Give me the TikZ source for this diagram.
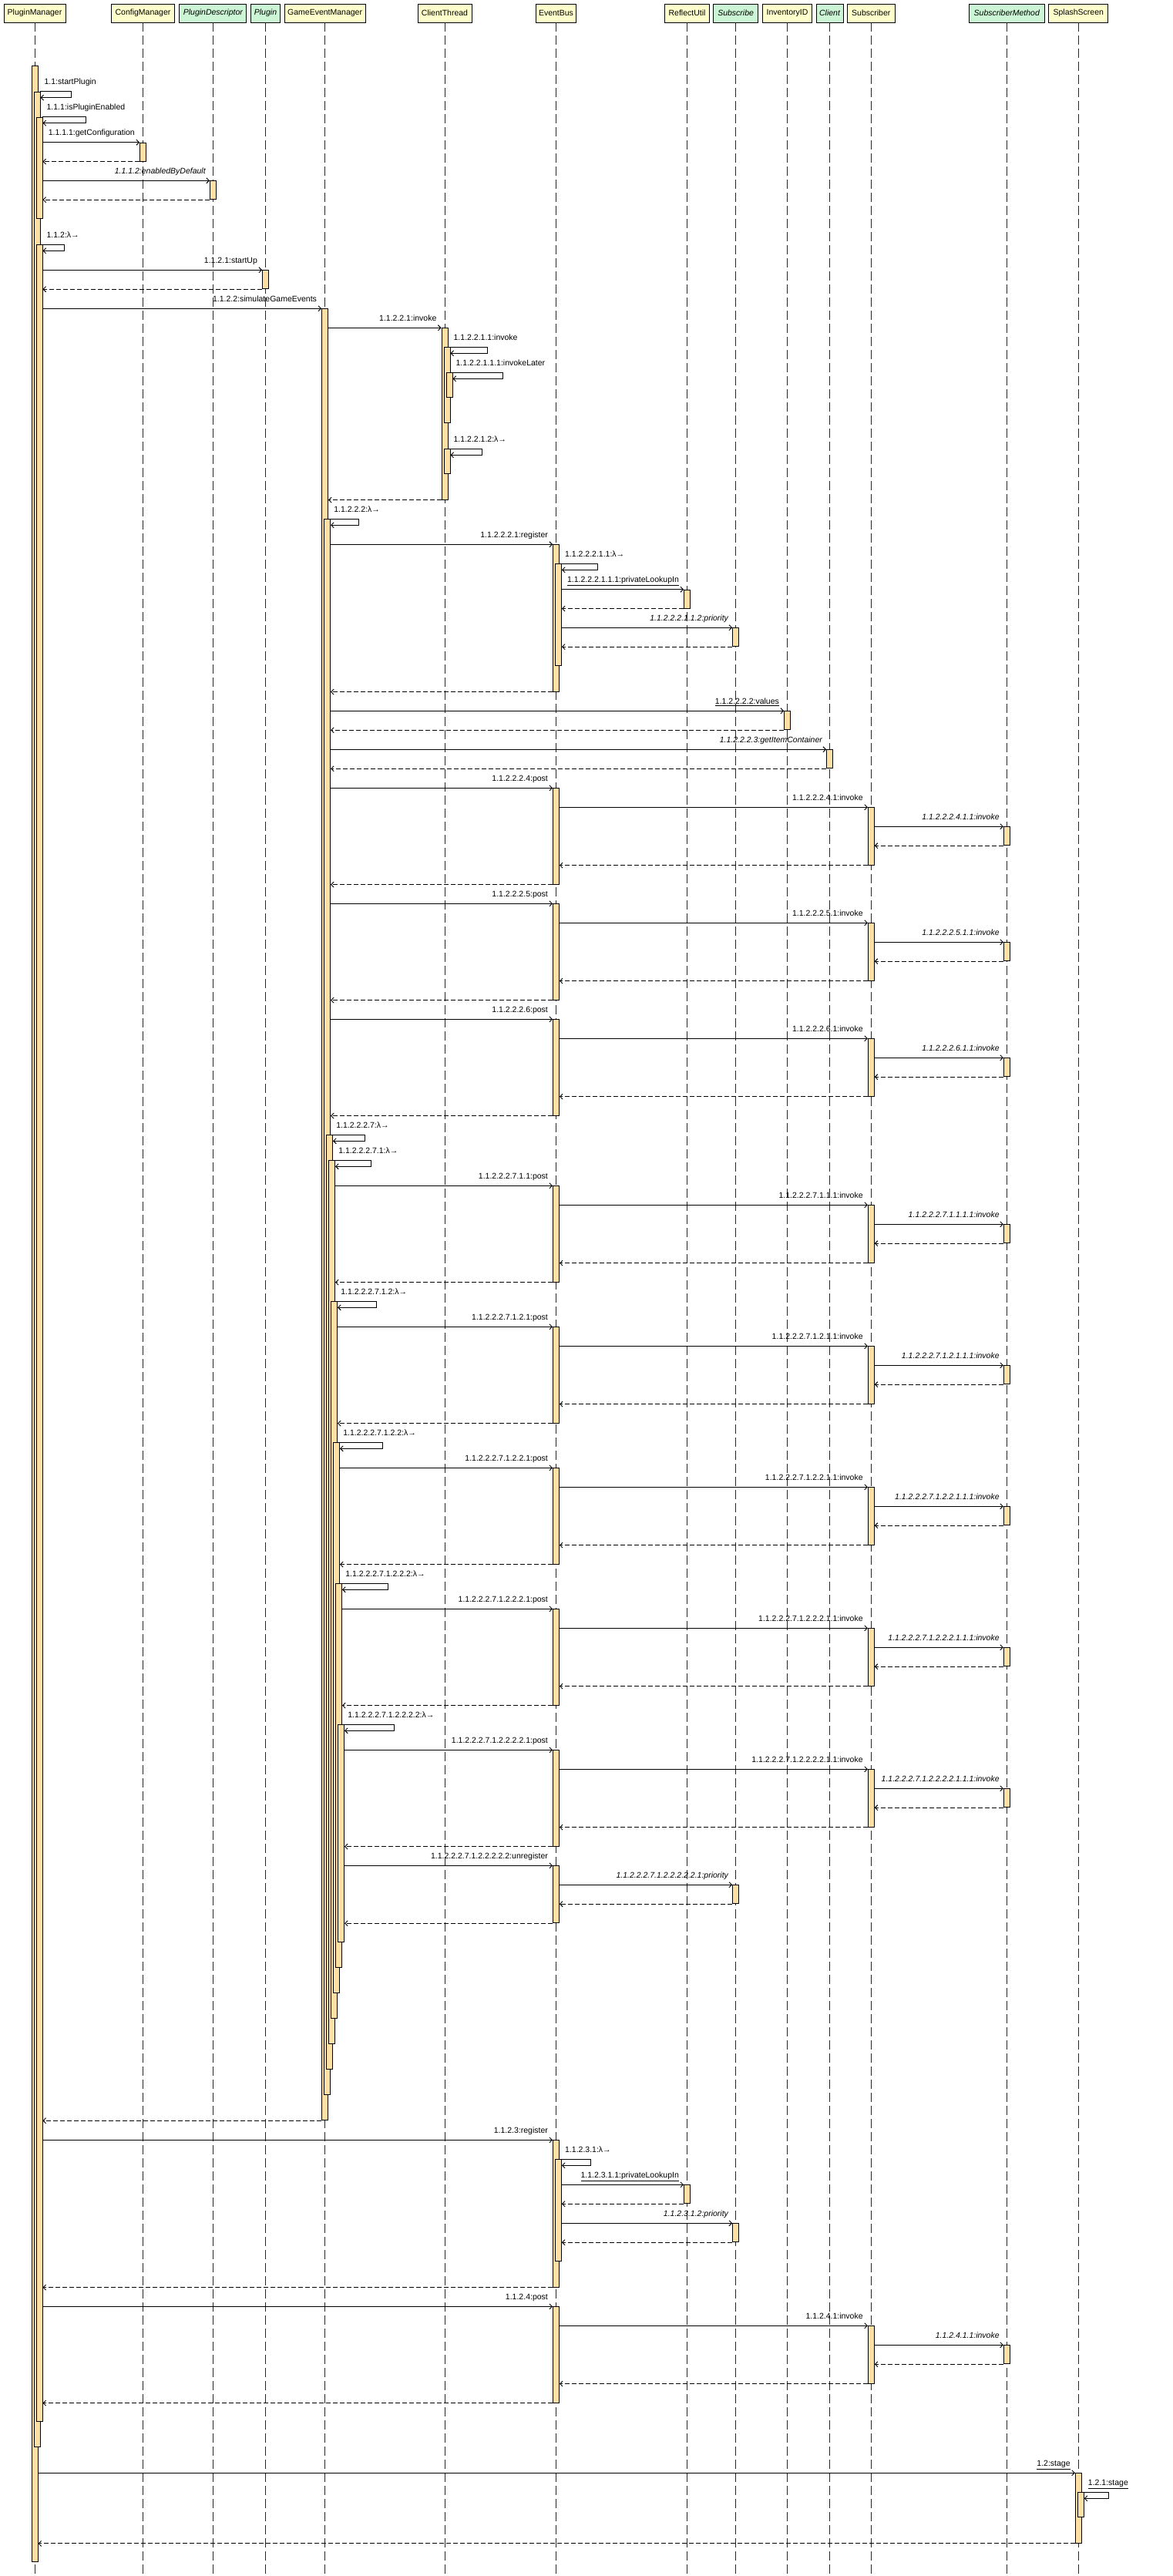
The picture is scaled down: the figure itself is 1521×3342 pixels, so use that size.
\documentclass[tikz,border=0pt]{standalone}
\usepackage{fontspec}
\setmainfont{Liberation Sans}
\usetikzlibrary{arrows.meta, positioning}
\definecolor{headyellow}{HTML}{FFFFCC}
\definecolor{headgreen}{HTML}{CCF5D6}
\definecolor{barfill}{HTML}{FFE0A4}
\tikzset{
  >={Straight Barb[length=3.5pt,width=7pt]},
  font=\fontsize{10.5}{12}\selectfont,
  lifehead/.style={
    draw=black, fill=#1, line width=0.9pt, minimum height=24pt,
    inner xsep=2pt, inner ysep=0pt
  },
  lifehead/.default=headyellow,
  actbar/.style={draw=black, fill=barfill, line width=0.9pt, minimum width=8pt, inner sep=0pt, anchor=north},
  lifeline/.style={draw=black!85, line width=0.9pt, dash pattern=on 12pt off 5pt},
  msg/.style={->, line width=0.9pt},
  ret/.style={->, line width=0.9pt, dash pattern=on 6pt off 3pt},
  lbl/.style={inner sep=0pt}
}

\begin{document}
\begin{tikzpicture}[x=1pt, y=-1pt]
  \useasboundingbox (0,0) rectangle (1521,3342);

  % lifeline heads
  \node[lifehead, minimum width=80pt] (hPM) at (45,17) {PluginManager};
  \node[lifehead, minimum width=82pt] (hCM) at (185.5,17) {ConfigManager};
  \node[lifehead=headgreen, minimum width=87pt] (hPD) at (276.4,17) {\itshape PluginDescriptor};
  \node[lifehead=headgreen, minimum width=38pt] (hPL) at (344.5,17) {\itshape Plugin};
  \node[lifehead, minimum width=105pt] (hGEM) at (421.6,17) {GameEventManager};
  \node[lifehead, minimum width=70pt] (hCT) at (577,17) {ClientThread};
  \node[lifehead, minimum width=52pt] (hEB) at (721.5,17) {EventBus};
  \node[lifehead, minimum width=58pt] (hRU) at (891.5,17) {ReflectUtil};
  \node[lifehead=headgreen, minimum width=58pt] (hSB) at (954.6,17) {\itshape Subscribe};
  \node[lifehead, minimum width=64pt] (hINV) at (1021.5,17) {InventoryID};
  \node[lifehead=headgreen, minimum width=35pt] (hCL) at (1076.5,17) {\itshape Client};
  \node[lifehead, minimum width=62pt] (hSUB) at (1130.3,17) {Subscriber};
  \node[lifehead=headgreen, minimum width=98pt] (hSM) at (1306.3,17) {\itshape SubscriberMethod};
  \node[lifehead, minimum width=77pt] (hSS) at (1399.3,17) {SplashScreen};

  \foreach \h in {hPM,hCM,hPD,hPL,hGEM,hCT,hEB,hRU,hSB,hINV,hCL,hSUB,hSM,hSS}
    \draw[lifeline] (\h.south) -- (\h.south |- 0,3342);

  % activation bars
  \node[actbar, minimum height=3238pt] (pmA) at (45,85) {};
  \node[actbar, minimum height=3055pt] (pmB) at (48,118.7) {};
  \node[actbar, minimum height=131pt] (pmC) at (51,151.7) {};
  \node[actbar, minimum height=2824pt] (pmD) at (51,317.3) {};
  \node[actbar, minimum height=24pt] (cmA) at (185.5,184.7) {};
  \node[actbar, minimum height=24pt] (pdA) at (276.4,234.3) {};
  \node[actbar, minimum height=24pt] (plA) at (344.5,350.3) {};

  \node[actbar, minimum height=2350pt] (gem0) at (421.6,400.3) {};
  \node[actbar, minimum height=2044pt] (gem1) at (424.6,673.3) {};
  \node[actbar, minimum height=1212pt] (gem2) at (427.6,1472.3) {};
  \node[actbar, minimum height=1146pt] (gem3) at (430.6,1505.3) {};
  \node[actbar, minimum height=930pt] (gem4) at (433.6,1688.3) {};
  \node[actbar, minimum height=714pt] (gem5) at (436.6,1871.3) {};
  \node[actbar, minimum height=498pt] (gem6) at (439.6,2054.3) {};
  \node[actbar, minimum height=282pt] (gem7) at (442.6,2237.3) {};

  \node[actbar, minimum height=222.4pt] (ctA) at (577,425.3) {};
  \node[actbar, minimum height=98pt] (ctB) at (580,450.3) {};
  \node[actbar, minimum height=32pt] (ctC) at (583,483.3) {};
  \node[actbar, minimum height=32pt] (ctD) at (580,582.3) {};

  \node[actbar, minimum height=190.4pt] (ebA) at (721.5,706.3) {};
  \node[actbar, minimum height=132pt] (ebB) at (724.5,731.3) {};
  \node[actbar, minimum height=74pt] (ebK) at (721.5,2420.3) {};
  \node[actbar, minimum height=190.4pt] (ebL) at (721.5,2776.3) {};
  \node[actbar, minimum height=132pt] (ebM) at (724.5,2801.3) {};

  \node[actbar, minimum height=24pt] (ruA) at (891.5,764.7) {};
  \node[actbar, minimum height=24pt] (ruB) at (891.5,2834.3) {};
  \node[actbar, minimum height=24pt] (sbA) at (954.6,814.3) {};
  \node[actbar, minimum height=24pt] (sbB) at (954.6,2445.3) {};
  \node[actbar, minimum height=24pt] (sbC) at (954.6,2884.3) {};
  \node[actbar, minimum height=24pt] (invA) at (1021.5,922.3) {};
  \node[actbar, minimum height=24pt] (clA) at (1076.5,972.3) {};
  \node[actbar, minimum height=90.7pt] (ssA) at (1399.3,3208.3) {};
  \node[actbar, minimum height=32pt] (ssB) at (1402.3,3233.3) {};

  % startPlugin
  \draw[msg] (pmB.north east) -- ++(40,0) -- ++(0,8) -- ++(-40,0);
  \node[lbl, anchor=base west] at ([xshift=5pt,yshift=9pt]pmB.north east) {1.1:startPlugin};
  \draw[msg] (pmC.north east) -- ++(56,0) -- ++(0,8) -- ++(-56,0);
  \node[lbl, anchor=base west] at ([xshift=5pt,yshift=9pt]pmC.north east) {1.1.1:isPluginEnabled};
  \draw[msg] (pmC.east |- cmA.north) -- (cmA.north west);
  \node[lbl, anchor=base east] at ([xshift=-6pt,yshift=9pt]cmA.north west) {1.1.1.1:getConfiguration};
  \draw[ret] (cmA.south west) -- (pmC.east |- cmA.south);
  \draw[msg] (pmC.east |- pdA.north) -- (pdA.north west);
  \node[lbl, anchor=base east] at ([xshift=-5pt,yshift=9pt]pdA.north west) {\itshape 1.1.1.2:enabledByDefault};
  \draw[ret] (pdA.south west) -- (pmC.east |- pdA.south);

  \draw[msg] (pmD.north east) -- ++(28,0) -- ++(0,8) -- ++(-28,0);
  \node[lbl, anchor=base west] at ([xshift=5pt,yshift=9pt]pmD.north east) {1.1.2:λ→};
  \draw[msg] (pmD.east |- plA.north) -- (plA.north west);
  \node[lbl, anchor=base east] at ([xshift=-6pt,yshift=9pt]plA.north west) {1.1.2.1:startUp};
  \draw[ret] (plA.south west) -- (pmD.east |- plA.south);
  \draw[msg] (pmD.east |- gem0.north) -- (gem0.north west);
  \node[lbl, anchor=base east] at ([xshift=-6pt,yshift=9pt]gem0.north west) {1.1.2.2:simulateGameEvents};

  % client thread
  \draw[msg] (gem0.east |- ctA.north) -- (ctA.north west);
  \node[lbl, anchor=base east] at ([xshift=-6pt,yshift=9pt]ctA.north west) {1.1.2.2.1:invoke};
  \draw[msg] (ctB.north east) -- ++(48,0) -- ++(0,8) -- ++(-48,0);
  \node[lbl, anchor=base west] at ([xshift=4pt,yshift=9pt]ctB.north east) {1.1.2.2.1.1:invoke};
  \draw[msg] (ctC.north east) -- ++(65,0) -- ++(0,8) -- ++(-65,0);
  \node[lbl, anchor=base west] at ([xshift=4pt,yshift=9pt]ctC.north east) {1.1.2.2.1.1.1:invokeLater};
  \draw[msg] (ctD.north east) -- ++(41,0) -- ++(0,8) -- ++(-41,0);
  \node[lbl, anchor=base west] at ([xshift=4pt,yshift=9pt]ctD.north east) {1.1.2.2.1.2:λ→};
  \draw[ret] (ctA.south west) -- (gem0.east |- ctA.south);

  % register
  \draw[msg] (gem1.north east) -- ++(36,0) -- ++(0,8) -- ++(-36,0);
  \node[lbl, anchor=base west] at ([xshift=4pt,yshift=9pt]gem1.north east) {1.1.2.2.2:λ→};
  \draw[msg] (gem1.east |- ebA.north) -- (ebA.north west);
  \node[lbl, anchor=base east] at ([xshift=-6pt,yshift=9pt]ebA.north west) {1.1.2.2.2.1:register};
  \draw[msg] (ebB.north east) -- ++(46,0) -- ++(0,8) -- ++(-46,0);
  \node[lbl, anchor=base west] at ([xshift=4pt,yshift=9pt]ebB.north east) {1.1.2.2.2.1.1:λ→};
  \draw[msg] (ebB.east |- ruA.north) -- (ruA.north west);
  \node[lbl, anchor=base east] at ([xshift=-6pt,yshift=9pt]ruA.north west) {\underline{1.1.2.2.2.1.1.1:privateLookupIn}};
  \draw[ret] (ruA.south west) -- (ebB.east |- ruA.south);
  \draw[msg] (ebB.east |- sbA.north) -- (sbA.north west);
  \node[lbl, anchor=base east] at ([xshift=-5pt,yshift=9pt]sbA.north west) {\itshape 1.1.2.2.2.1.1.2:priority};
  \draw[ret] (sbA.south west) -- (ebB.east |- sbA.south);
  \draw[ret] (ebA.south west) -- (gem1.east |- ebA.south);
  \draw[msg] (gem1.east |- invA.north) -- (invA.north west);
  \node[lbl, anchor=base east] at ([xshift=-6pt,yshift=9pt]invA.north west) {\underline{1.1.2.2.2.2:values}};
  \draw[ret] (invA.south west) -- (gem1.east |- invA.south);
  \draw[msg] (gem1.east |- clA.north) -- (clA.north west);
  \node[lbl, anchor=base east] at ([xshift=-5pt,yshift=9pt]clA.north west) {\itshape 1.1.2.2.2.3:getItemContainer};
  \draw[ret] (clA.south west) -- (gem1.east |- clA.south);

  % nested lambdas
  \draw[msg] (gem2.north east) -- ++(41,0) -- ++(0,8) -- ++(-41,0);
  \node[lbl, anchor=base west] at ([xshift=4pt,yshift=9pt]gem2.north east) {1.1.2.2.2.7:λ→};
  \draw[msg] (gem3.north east) -- ++(46,0) -- ++(0,8) -- ++(-46,0);
  \node[lbl, anchor=base west] at ([xshift=4pt,yshift=9pt]gem3.north east) {1.1.2.2.2.7.1:λ→};
  \draw[msg] (gem4.north east) -- ++(50,0) -- ++(0,8) -- ++(-50,0);
  \node[lbl, anchor=base west] at ([xshift=4pt,yshift=9pt]gem4.north east) {1.1.2.2.2.7.1.2:λ→};
  \draw[msg] (gem5.north east) -- ++(55,0) -- ++(0,8) -- ++(-55,0);
  \node[lbl, anchor=base west] at ([xshift=4pt,yshift=9pt]gem5.north east) {1.1.2.2.2.7.1.2.2:λ→};
  \draw[msg] (gem6.north east) -- ++(59,0) -- ++(0,8) -- ++(-59,0);
  \node[lbl, anchor=base west] at ([xshift=4pt,yshift=9pt]gem6.north east) {1.1.2.2.2.7.1.2.2.2:λ→};
  \draw[msg] (gem7.north east) -- ++(64,0) -- ++(0,8) -- ++(-64,0);
  \node[lbl, anchor=base west] at ([xshift=4pt,yshift=9pt]gem7.north east) {1.1.2.2.2.7.1.2.2.2.2:λ→};

  % post blocks
  \foreach \y/\src/\pre [count=\n] in {
      1022.3/gem1/1.1.2.2.2.4, 1172.3/gem1/1.1.2.2.2.5, 1322.3/gem1/1.1.2.2.2.6,
      1538.3/gem3/1.1.2.2.2.7.1.1, 1721.3/gem4/1.1.2.2.2.7.1.2.1,
      1904.3/gem5/1.1.2.2.2.7.1.2.2.1, 2087.3/gem6/1.1.2.2.2.7.1.2.2.2.1,
      2270.3/gem7/1.1.2.2.2.7.1.2.2.2.2.1, 2992.3/pmD/1.1.2.4}{
    \node[actbar, minimum height=124.4pt] (ep\n) at (721.5,\y) {};
    \node[actbar, minimum height=74.4pt] (sp\n) at (1130.3,\y+25) {};
    \node[actbar, minimum height=24pt] (mp\n) at (1306.3,\y+50) {};
    \draw[msg] (\src.east |- ep\n.north) -- (ep\n.north west);
    \node[lbl, anchor=base east] at ([xshift=-6pt,yshift=9pt]ep\n.north west) {\pre:post};
    \draw[msg] (ep\n.east |- sp\n.north) -- (sp\n.north west);
    \node[lbl, anchor=base east] at ([xshift=-6pt,yshift=9pt]sp\n.north west) {\pre.1:invoke};
    \draw[msg] (sp\n.east |- mp\n.north) -- (mp\n.north west);
    \node[lbl, anchor=base east] at ([xshift=-5pt,yshift=9pt]mp\n.north west) {\itshape\pre.1.1:invoke};
    \draw[ret] (mp\n.south west) -- (sp\n.east |- mp\n.south);
    \draw[ret] (sp\n.south west) -- (ep\n.east |- sp\n.south);
    \draw[ret] (ep\n.south west) -- (\src.east |- ep\n.south);
  }

  % unregister
  \draw[msg] (gem7.east |- ebK.north) -- (ebK.north west);
  \node[lbl, anchor=base east] at ([xshift=-6pt,yshift=9pt]ebK.north west) {1.1.2.2.2.7.1.2.2.2.2.2:unregister};
  \draw[msg] (ebK.east |- sbB.north) -- (sbB.north west);
  \node[lbl, anchor=base east] at ([xshift=-5pt,yshift=9pt]sbB.north west) {\itshape 1.1.2.2.2.7.1.2.2.2.2.2.1:priority};
  \draw[ret] (sbB.south west) -- (ebK.east |- sbB.south);
  \draw[ret] (ebK.south west) -- (gem7.east |- ebK.south);
  \draw[ret] (gem0.south west) -- (pmD.east |- gem0.south);

  % register after events
  \draw[msg] (pmD.east |- ebL.north) -- (ebL.north west);
  \node[lbl, anchor=base east] at ([xshift=-6pt,yshift=9pt]ebL.north west) {1.1.2.3:register};
  \draw[msg] (ebM.north east) -- ++(37,0) -- ++(0,8) -- ++(-37,0);
  \node[lbl, anchor=base west] at ([xshift=4pt,yshift=9pt]ebM.north east) {1.1.2.3.1:λ→};
  \draw[msg] (ebM.east |- ruB.north) -- (ruB.north west);
  \node[lbl, anchor=base east] at ([xshift=-6pt,yshift=9pt]ruB.north west) {\underline{1.1.2.3.1.1:privateLookupIn}};
  \draw[ret] (ruB.south west) -- (ebM.east |- ruB.south);
  \draw[msg] (ebM.east |- sbC.north) -- (sbC.north west);
  \node[lbl, anchor=base east] at ([xshift=-5pt,yshift=9pt]sbC.north west) {\itshape 1.1.2.3.1.2:priority};
  \draw[ret] (sbC.south west) -- (ebM.east |- sbC.south);
  \draw[ret] (ebL.south west) -- (pmD.east |- ebL.south);

  % splash screen
  \draw[msg] (pmA.east |- ssA.north) -- (ssA.north west);
  \node[lbl, anchor=base east] at ([xshift=-6pt,yshift=9pt]ssA.north west) {\underline{1.2:stage}};
  \draw[msg] (ssB.north east) -- ++(32,0) -- ++(0,8) -- ++(-32,0);
  \node[lbl, anchor=base west] at ([xshift=5pt,yshift=9pt]ssB.north east) {\underline{1.2.1:stage}};
  \draw[ret] (ssA.south west) -- (pmA.east |- ssA.south);
\end{tikzpicture}
\end{document}
